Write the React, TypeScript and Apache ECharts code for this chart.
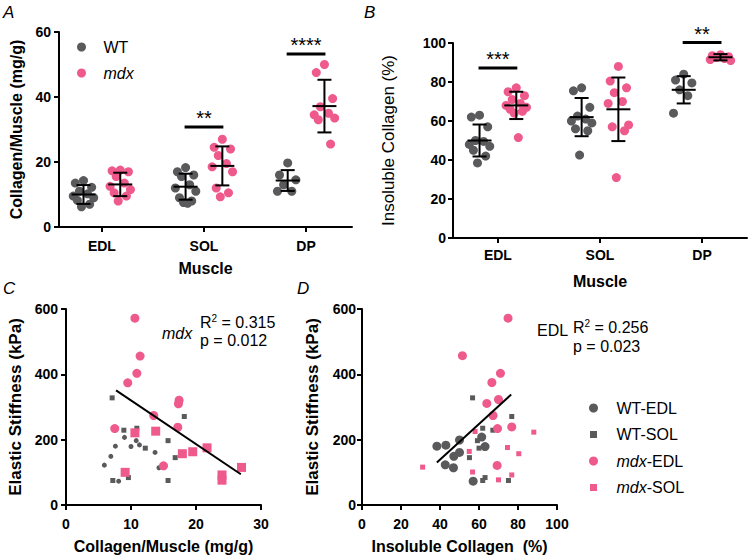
import React, { useEffect, useRef } from 'react';
import * as echarts from 'echarts';

const GREY = '#5a5a5c';
const PINK = '#ee5a8b';
const FONT = '"Liberation Sans", Arial, Helvetica, sans-serif';

const muscles = ['EDL', 'SOL', 'DP'];

// ---- Panel A: Collagen/Muscle (mg/g) ----
const aWT_EDL = [14.3, 13.5, 12.2, 11, 10.2, 9.5, 9, 8.2, 7, 6.2];
const aWT_SOL = [18.3, 17, 16, 15.5, 13, 12, 11, 9, 8, 7.5, 7.3];
const aWT_DP = [19.7, 16, 14.5, 13, 11, 11];
const aMdx_EDL = [17.5, 17.3, 17, 15.5, 13.5, 12.5, 11.5, 10.5, 9.5, 8];
const aMdx_SOL = [27, 24.5, 24, 22, 19.5, 18.5, 17, 12, 10.5, 9.3];
const aMdx_DP = [50, 47.5, 39.5, 37, 35, 34.5, 33.5, 33, 25.5];
const aWT_mean = [10, 12.4, 14.3];
const aWT_sd = [2.9, 4.0, 3.2];
const aMdx_mean = [13.1, 18.8, 37.2];
const aMdx_sd = [3.6, 6.0, 8.1];
const aSigPos = [2, 3];
const aSigY = [30.8, 53.2];
const aSigText = ['**', '****'];

// ---- Panel B: Insoluble collagen (%) ----
const bWT_EDL = [63, 62, 57, 50, 49.5, 48, 47, 45, 42, 38.5];
const bWT_SOL = [77, 75.5, 67, 62.5, 61, 60, 59, 56, 55, 42.5];
const bWT_DP = [84, 81, 79.5, 76, 73, 64];
const bMdx_EDL = [77, 75, 73, 71, 69, 68, 67, 66, 65, 64, 51.5];
const bMdx_SOL = [88, 80.5, 77, 74.5, 70, 69, 58, 57, 55, 31];
const bMdx_DP = [94, 93.5, 93, 92.5, 92, 91.5, 91];
const bWT_mean = [50, 62, 76];
const bWT_sd = [8.2, 9.8, 7];
const bMdx_mean = [68, 66, 92.7];
const bMdx_sd = [7, 16.3, 1.6];
const bSigPos = [1, 3];
const bSigY = [87.2, 100.2];
const bSigText = ['***', '**'];

// ---- Panel C: Elastic stiffness vs Collagen/Muscle ----
const cWTEDL_x = [5.9, 6.9, 7.6, 9.0, 10.0, 10.8, 11.3, 13.7, 14.3, 8.1];
const cWTEDL_y = [122, 149, 180, 207, 179, 197, 184, 161, 114, 73];
const cWTSOL_x = [7.1, 8.9, 10.9, 12.2, 15.7, 18.2, 16.8, 7.2, 9.6, 15.7];
const cWTSOL_y = [328, 229, 235, 174, 197, 271, 145, 75, 84, 75];
const cMdxEDL_x = [10.6, 11.4, 10.9, 9.5, 17.4, 17.3, 13.5, 17.2, 7.5, 15.0];
const cMdxEDL_y = [572, 456, 403, 374, 321, 310, 274, 238, 234, 120];
const cMdxSOL_x = [10.6, 13.8, 21.7, 19.5, 17.9, 27.0, 24.0, 24.0, 9.1];
const cMdxSOL_y = [221, 226, 175, 163, 157, 115, 92, 76, 100];
const cFit_x = [7.7, 26.9];
const cFit_y = [351, 94];

// ---- Panel D: Elastic stiffness vs Insoluble collagen ----
const dWTEDL_x = [38.4, 43.0, 50.0, 61.4, 63.1, 50.0, 47.1, 42.7, 46.9, 57.0];
const dWTEDL_y = [180, 183, 199, 208, 179, 161, 149, 123, 114, 73];
const dWTSOL_x = [56.7, 76.8, 61.9, 67.1, 59.2, 55.1, 63.1, 61.9, 75.1, 60.0];
const dWTSOL_y = [328, 271, 235, 229, 197, 145, 84, 75, 75, 174];
const dMdxEDL_x = [74.9, 51.5, 71.0, 66.6, 70.0, 64.0, 67.2, 69.5, 76.8, 69.3];
const dMdxEDL_y = [572, 457, 403, 375, 323, 311, 274, 234, 239, 121];
const dMdxSOL_x = [58.0, 88.1, 74.6, 80.4, 55.0, 31.1, 56.7, 76.8, 70.0];
const dMdxSOL_y = [225, 223, 176, 157, 164, 116, 101, 92, 77];
const dFit_x = [38.4, 76.5];
const dFit_y = [130, 338];

const JIT = [0, -0.08, 0.08, -0.04, 0.04, -0.1, 0.1, -0.06, 0.06, -0.02, 0.02, -0.09];
const OFF = 0.18;
const SQUARE_ICON = 'path://M0,0M1,1H8V8H1ZM9,9';

function dots(groups: number[][], offset: number) {
  const out: number[][] = [];
  groups.forEach((vals, i) =>
    vals.forEach((v, j) => out.push([i + 1 + offset + JIT[j % JIT.length], v]))
  );
  return out;
}
function bars(means: number[], sds: number[], offset: number) {
  return means.map((m, i) => [i + 1 + offset, m, sds[i]]);
}
function pairs(xs: number[], ys: number[]) {
  return xs.map((x, i) => [x, ys[i]]);
}

const errRender = (params: any, api: any) => {
  const x = api.value(0);
  const m = api.value(1);
  const sd = api.value(2);
  const c = api.coord([x, m]);
  const t = api.coord([x, m + sd]);
  const b = api.coord([x, m - sd]);
  const style = { stroke: '#000', lineWidth: 2 };
  return {
    type: 'group',
    children: [
      { type: 'line', shape: { x1: c[0] - 12, y1: c[1], x2: c[0] + 12, y2: c[1] }, style },
      { type: 'line', shape: { x1: c[0], y1: t[1], x2: c[0], y2: b[1] }, style },
      { type: 'line', shape: { x1: c[0] - 7, y1: t[1], x2: c[0] + 7, y2: t[1] }, style },
      { type: 'line', shape: { x1: c[0] - 7, y1: b[1], x2: c[0] + 7, y2: b[1] }, style },
    ],
  };
};

const sigRender = (texts: string[]) => (params: any, api: any) => {
  const x = api.value(0);
  const y = api.value(1);
  const l = api.coord([x - 0.19, y]);
  const r = api.coord([x + 0.19, y]);
  return {
    type: 'group',
    children: [
      { type: 'line', shape: { x1: l[0], y1: l[1], x2: r[0], y2: r[1] }, style: { stroke: '#000', lineWidth: 3 } },
      {
        type: 'text',
        x: (l[0] + r[0]) / 2,
        y: l[1] - 9,
        style: {
          text: texts[params.dataIndex],
          fontSize: 20,
          fontFamily: FONT,
          fill: '#000',
          align: 'center',
          verticalAlign: 'middle',
        },
      },
    ],
  };
};

const axisLine = { show: true, lineStyle: { color: '#000', width: 2 } };
const axisTick = { show: true, length: 5, lineStyle: { color: '#000', width: 2 } };
const lab = (margin: number) => ({
  color: '#000',
  fontFamily: FONT,
  fontWeight: 'bold' as const,
  fontSize: 14,
  margin,
});
const nameStyle = (size: number, weight: any = 'bold') => ({
  color: '#000',
  fontFamily: FONT,
  fontWeight: weight,
  fontSize: size,
});

function catAxis(gridIndex: number, min: number, max: number, name: string, nameGap: number, margin: number) {
  return {
    type: 'value',
    gridIndex,
    min,
    max,
    name,
    nameLocation: 'middle',
    nameGap,
    nameTextStyle: nameStyle(16),
    axisLine,
    axisTick: { ...axisTick, customValues: [1, 2, 3] },
    axisLabel: { ...lab(margin), customValues: [1, 2, 3], formatter: (v: number) => muscles[Math.round(v) - 1] },
    splitLine: { show: false },
  };
}
function valAxis(gridIndex: number, min: number, max: number, interval: number, name: string, nameGap: number, margin: number, nameSize = 16, nameWeight: any = 'bold') {
  return {
    type: 'value',
    gridIndex,
    min,
    max,
    interval,
    name,
    nameLocation: 'middle',
    nameGap,
    nameTextStyle: nameStyle(nameSize, nameWeight),
    axisLine,
    axisTick,
    axisLabel: lab(margin),
    splitLine: { show: false },
  };
}

const txt = (x: number, y: number, text: string, size: number, extra: any = {}) => ({
  type: 'text',
  x,
  y,
  style: {
    text,
    fontSize: size,
    fontFamily: FONT,
    fill: '#000',
    verticalAlign: 'middle',
    ...extra,
  },
});

const legendText = {
  color: '#000',
  fontFamily: FONT,
  fontSize: 16,
  lineHeight: 16,
  rich: { i: { fontStyle: 'italic', fontSize: 16, fontFamily: FONT, color: '#000' } },
};

export default function App() {
  const ref = useRef<HTMLDivElement>(null);
  useEffect(() => {
    if (!ref.current) return;
    const chart = echarts.init(ref.current, null, { renderer: 'svg' });
    const supRich = {
      sup: { fontSize: 10, fontFamily: FONT, fill: '#000', color: '#000', verticalAlign: 'top', padding: [0, 0, 8, 0] },
    };
    const option: any = {
      animation: false,
      backgroundColor: '#fff',
      textStyle: { fontFamily: FONT },
      grid: [
        { left: 59, top: 32, width: 293, height: 195 },
        { left: 453, top: 43, width: 294, height: 195 },
        { left: 66, top: 309, width: 195, height: 196 },
        { left: 362, top: 309, width: 195, height: 196 },
      ],
      xAxis: [
        catAxis(0, 0.58, 3.45, 'Muscle', 33, 12),
        catAxis(1, 0.56, 3.44, 'Muscle', 35, 10),
        valAxis(2, 0, 30, 10, 'Collagen/Muscle (mg/g)', 33, 12),
        valAxis(3, 0, 100, 20, 'Insoluble Collagen  (%)', 33, 12),
      ],
      yAxis: [
        valAxis(0, 0, 60, 20, 'Collagen/Muscle (mg/g)', 35, 8),
        valAxis(1, 0, 100, 20, 'Insoluble Collagen (%)', 56, 7, 17, 'normal'),
        valAxis(2, 0, 600, 200, 'Elastic Stiffness (kPa)', 42, 8, 17),
        valAxis(3, 0, 600, 200, 'Elastic Stiffness (kPa)', 41, 6, 17),
      ],
      legend: [
        {
          data: [
            { name: 'WT', icon: 'circle' },
            { name: 'mdx', icon: 'circle' },
          ],
          orient: 'vertical',
          left: 72,
          top: 34,
          itemWidth: 34,
          itemHeight: 9,
          itemGap: 10,
          selectedMode: false,
          formatter: (n: string) => (n === 'mdx' ? '{i|mdx}' : n),
          textStyle: legendText,
        },
        {
          data: [
            { name: 'WT-EDL', icon: 'circle' },
            { name: 'WT-SOL', icon: SQUARE_ICON },
            { name: 'mdx-EDL', icon: 'circle' },
            { name: 'mdx-SOL', icon: SQUARE_ICON },
          ],
          orient: 'vertical',
          left: 584,
          top: 395,
          itemWidth: 36,
          itemHeight: 9,
          itemGap: 10.5,
          selectedMode: false,
          formatter: (n: string) => (n.startsWith('mdx') ? '{i|mdx}' + n.slice(3) : n),
          textStyle: legendText,
        },
      ],
      graphic: [
        txt(3, 12, 'A', 17, { fontStyle: 'italic' }),
        txt(364, 12, 'B', 17, { fontStyle: 'italic' }),
        txt(3, 288, 'C', 17, { fontStyle: 'italic' }),
        txt(297, 288, 'D', 17, { fontStyle: 'italic' }),
        txt(162, 333, 'mdx', 16, { fontStyle: 'italic' }),
        txt(200, 322, 'R{sup|2} = 0.315', 16, { rich: supRich }),
        txt(200, 340, 'p = 0.012', 16),
        txt(537, 330, 'EDL', 16),
        txt(573, 327, 'R{sup|2} = 0.256', 16, { rich: supRich }),
        txt(573, 346, 'p = 0.023', 16),
      ],
      series: [
        // Panel A
        { type: 'scatter', name: 'WT', xAxisIndex: 0, yAxisIndex: 0, symbolSize: 9, itemStyle: { color: GREY, opacity: 1 }, data: dots([aWT_EDL, aWT_SOL, aWT_DP], -OFF) },
        { type: 'scatter', name: 'mdx', xAxisIndex: 0, yAxisIndex: 0, symbolSize: 9, itemStyle: { color: PINK, opacity: 1 }, data: dots([aMdx_EDL, aMdx_SOL, aMdx_DP], OFF) },
        { type: 'custom', xAxisIndex: 0, yAxisIndex: 0, renderItem: errRender, encode: { x: 0, y: 1 }, data: [...bars(aWT_mean, aWT_sd, -OFF), ...bars(aMdx_mean, aMdx_sd, OFF)], z: 5 },
        { type: 'custom', xAxisIndex: 0, yAxisIndex: 0, renderItem: sigRender(aSigText), encode: { x: 0, y: 1 }, data: aSigPos.map((p, i) => [p, aSigY[i]]), z: 5 },
        // Panel B
        { type: 'scatter', name: 'WT', xAxisIndex: 1, yAxisIndex: 1, symbolSize: 9, itemStyle: { color: GREY, opacity: 1 }, data: dots([bWT_EDL, bWT_SOL, bWT_DP], -OFF) },
        { type: 'scatter', name: 'mdx', xAxisIndex: 1, yAxisIndex: 1, symbolSize: 9, itemStyle: { color: PINK, opacity: 1 }, data: dots([bMdx_EDL, bMdx_SOL, bMdx_DP], OFF) },
        { type: 'custom', xAxisIndex: 1, yAxisIndex: 1, renderItem: errRender, encode: { x: 0, y: 1 }, data: [...bars(bWT_mean, bWT_sd, -OFF), ...bars(bMdx_mean, bMdx_sd, OFF)], z: 5 },
        { type: 'custom', xAxisIndex: 1, yAxisIndex: 1, renderItem: sigRender(bSigText), encode: { x: 0, y: 1 }, data: bSigPos.map((p, i) => [p, bSigY[i]]), z: 5 },
        // Panel C
        { type: 'scatter', name: 'WT-EDL', xAxisIndex: 2, yAxisIndex: 2, symbol: 'circle', symbolSize: 5, itemStyle: { color: GREY, opacity: 1 }, data: pairs(cWTEDL_x, cWTEDL_y) },
        { type: 'scatter', name: 'WT-SOL', xAxisIndex: 2, yAxisIndex: 2, symbol: 'rect', symbolSize: 5, itemStyle: { color: GREY, opacity: 1 }, data: pairs(cWTSOL_x, cWTSOL_y) },
        { type: 'scatter', name: 'mdx-EDL', xAxisIndex: 2, yAxisIndex: 2, symbol: 'circle', symbolSize: 9, itemStyle: { color: PINK, opacity: 1 }, data: pairs(cMdxEDL_x, cMdxEDL_y) },
        { type: 'scatter', name: 'mdx-SOL', xAxisIndex: 2, yAxisIndex: 2, symbol: 'rect', symbolSize: 9, itemStyle: { color: PINK, opacity: 1 }, data: pairs(cMdxSOL_x, cMdxSOL_y) },
        { type: 'line', xAxisIndex: 2, yAxisIndex: 2, symbol: 'none', lineStyle: { color: '#000', width: 2 }, data: pairs(cFit_x, cFit_y), z: 5 },
        // Panel D
        { type: 'scatter', name: 'WT-EDL', xAxisIndex: 3, yAxisIndex: 3, symbol: 'circle', symbolSize: 9, itemStyle: { color: GREY, opacity: 1 }, data: pairs(dWTEDL_x, dWTEDL_y) },
        { type: 'scatter', name: 'WT-SOL', xAxisIndex: 3, yAxisIndex: 3, symbol: 'rect', symbolSize: 5, itemStyle: { color: GREY, opacity: 1 }, data: pairs(dWTSOL_x, dWTSOL_y) },
        { type: 'scatter', name: 'mdx-EDL', xAxisIndex: 3, yAxisIndex: 3, symbol: 'circle', symbolSize: 9, itemStyle: { color: PINK, opacity: 1 }, data: pairs(dMdxEDL_x, dMdxEDL_y) },
        { type: 'scatter', name: 'mdx-SOL', xAxisIndex: 3, yAxisIndex: 3, symbol: 'rect', symbolSize: 5, itemStyle: { color: PINK, opacity: 1 }, data: pairs(dMdxSOL_x, dMdxSOL_y) },
        { type: 'line', xAxisIndex: 3, yAxisIndex: 3, symbol: 'none', lineStyle: { color: '#000', width: 2 }, data: pairs(dFit_x, dFit_y), z: 5 },
      ],
    };
    chart.setOption(option);
    return () => chart.dispose();
  }, []);
  return <div ref={ref} style={{ position: 'absolute', left: 0, top: 0, width: 750, height: 558 }} />;
}
